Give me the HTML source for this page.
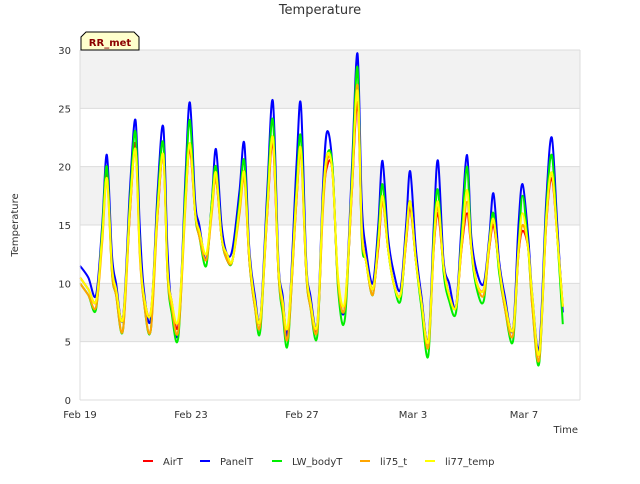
<!DOCTYPE html>
<html><head><meta charset="utf-8"><style>
body{margin:0;background:#fff;font-family:"DejaVu Sans",sans-serif}
</style></head><body>
<svg width="640" height="480" xmlns="http://www.w3.org/2000/svg" font-family="DejaVu Sans, sans-serif">
<g id="bands"></g>
<g id="grid"></g>
<g id="series"></g>
<g id="axes"></g>
<text x="320" y="14" text-anchor="middle" font-size="13" fill="#333">Temperature</text>
<text transform="translate(18,225) rotate(-90)" text-anchor="middle" font-size="10" fill="#333">Temperature</text>
<text x="578" y="433" text-anchor="end" font-size="10" fill="#333">Time</text>
<g>
<path d="M81,50 L81,37 L86,32 L134,32 L139,37 L139,50 Z" fill="#ffffcc" stroke="#000" stroke-width="1"/>
<text x="110" y="46" text-anchor="middle" font-size="10" font-weight="bold" fill="#8b0000">RR_met</text>
</g>
<g id="legend"></g>
</svg>
<script>
const times=[0,0.3,0.58,0.8,0.97,1.15,1.3,1.55,1.8,2.0,2.15,2.3,2.55,2.8,3.0,3.15,3.3,3.55,3.8,3.96,4.15,4.3,4.55,4.75,4.9,5.1,5.3,5.5,5.75,5.92,6.1,6.3,6.5,6.75,6.95,7.15,7.3,7.5,7.8,7.96,8.15,8.3,8.55,8.75,8.9,9.1,9.3,9.55,9.8,10.0,10.15,10.3,10.55,10.75,10.9,11.1,11.3,11.55,11.75,11.9,12.1,12.3,12.55,12.75,12.9,13.1,13.3,13.55,13.75,13.95,14.1,14.3,14.55,14.75,14.9,15.1,15.3,15.6,15.8,15.95,16.15,16.3,16.55,16.8,17.0,17.2,17.4];
const airT=[10.5,9.5,8.5,14,19.5,11.5,9.5,7,16,22,13,9,7.5,16,21,11.5,8.5,6.5,17,21.5,16,14.5,12,16.5,19,14,12,12,16.5,19.5,12,8.5,7,16,22,11,8.5,6,17,21.5,11,8.5,6,16.5,20,19.5,10,8,18,25.5,15,12,9.5,13,17,13,10,9,13.5,16.5,12,8.5,5,13,16,11.5,9,8,13,16,13,10,9.5,13,15,11.5,8.5,6,12.5,14.5,13,8.5,4,15,19,14,8];
const panelT=[11.5,10.5,9,15,21,12.5,10,7,18,24,15,9.5,7,18,23.4,13,8,6,19,25.5,17,15,12,17,21.5,15,12.5,13,18,22,13,9,7,18,25.6,12,9,6,20,25.3,12,9,6.5,18,23,20,10,8,20,29.7,17,13,10,15,20.5,14,11,9.5,15,19.6,13,9,5,15,20.5,12,10,8,15,21,14,11,10,14,17.7,12,9,6,15,18.5,14,9,4.5,17,22.5,15,7.5];
const lwBodyT=[10,9,7.8,14.5,20,11,9,6,17,23,13,8.5,6,17,22,11,7.5,5.5,18,24,16,14,11.5,17,20,14,12,12,17,20.5,12,8,6,17,24,11,7.5,5,18,22.5,11,8,5.5,17,21,20,9.5,7,19,28.5,14,12,9,14,18.5,13,10,8.5,14,17,12,8,3.8,14,18,11,8.5,7.5,14,20,13,9.5,8.5,13.5,16,11,8,5,13,17.5,13,8,3.2,16,21,14,6.5];
const li75=[10,9,8,13.5,19,11,9,6,16,21.5,12.5,8.5,6,16,21,11,8,6,16.5,22,16,14,12,16,19,14,12,12,16,19,12,8,6.5,16,22.5,11,8,5.5,17,21,11,8,6,16,20.5,19.5,10,8,18,27,14.5,12,9,13.5,17,13,10,9,13.5,17,12,8.5,4.5,13,16.5,11.5,9,8,13,17,13,10,9,13,15.5,11.5,8,5.5,12.5,15,13,8,3.5,15,19.5,14,8];
const li77=[10.5,9.5,8.5,14,19,11.5,9.5,7,16.5,21.5,13,9,7.5,16.5,21,11.5,8.5,7,17,22,16,14.5,12.5,16.5,19.5,14,12.5,12,16.5,19.5,12.5,8.5,7,16.5,22.5,11.5,8.5,6.5,17.5,21.5,11.5,8.5,6.5,17,21,19.5,10.5,8.5,18.5,26.5,15,12,9.5,13.5,17.5,13,10,9,14,17,12,8.5,5,13.5,17,11.5,9,8,13.5,18,13,10,9.5,13.5,15.5,11.5,8.5,6,13,16,13,9,4,15.5,19.5,14,8];
const seriesNames=["AirT","PanelT","LW_bodyT","li75_t","li77_temp"];
const seriesColors=["#ff0000","#0000ff","#00ee00","#ffa500","#ffff00"];
const yTicks=[0,5,10,15,20,25,30];
const xTickDays=[0,4,8,12,16];
const xTickLabels=["Feb 19","Feb 23","Feb 27","Mar 3","Mar 7"];

const NS="http://www.w3.org/2000/svg";
const X0=80,X1=580,Y0=400,Y1=50;
const xs=d=>X0+d*27.75;
const ys=v=>Y0-(v/30)*(Y0-Y1);
function mk(tag,attrs,parent){const e=document.createElementNS(NS,tag);for(const k in attrs)e.setAttribute(k,attrs[k]);parent.appendChild(e);return e;}
const bands=document.getElementById('bands'),grid=document.getElementById('grid'),axes=document.getElementById('axes'),ser=document.getElementById('series'),leg=document.getElementById('legend');
mk('rect',{x:X0,y:Y1,width:X1-X0,height:Y0-Y1,fill:'#fff'},bands);
for(let i=0;i<yTicks.length-1;i++){
 if(i%2===1){const r=mk('rect',{x:X0,y:ys(yTicks[i+1]),width:X1-X0,height:ys(yTicks[i])-ys(yTicks[i+1]),fill:'#f2f2f2'},bands);
 
 }
}
yTicks.forEach(v=>{
 const l=mk('line',{x1:X0,x2:X1,y1:ys(v),y2:ys(v),stroke:'#dcdcdc','stroke-width':1},grid);
 
 
 const t=mk('text',{x:X0-9,y:ys(v)+4,'text-anchor':'end','font-size':10,fill:'#333'},axes);
 t.textContent=v;
 
 
});
mk('line',{x1:X1,x2:X1,y1:Y1,y2:Y0,stroke:'#dcdcdc'},grid);
mk('line',{x1:X0,x2:X0,y1:Y1,y2:Y0,stroke:'#dcdcdc'},axes);
mk('line',{x1:X0,x2:X1,y1:Y0,y2:Y0,stroke:'#dcdcdc'},axes);
xTickDays.forEach((d,i)=>{
 const t=mk('text',{x:xs(d),y:Y0+18,'text-anchor':'middle','font-size':10,fill:'#333'},axes);
 t.textContent=xTickLabels[i];
 
 
});
function smoothPath(P){
 let d='M'+P[0][0].toFixed(1)+','+P[0][1].toFixed(1);
 for(let i=0;i<P.length-1;i++){
  const p0=P[Math.max(0,i-1)],p1=P[i],p2=P[i+1],p3=P[Math.min(P.length-1,i+2)];
  const c1=[p1[0]+(p2[0]-p0[0])/6,p1[1]+(p2[1]-p0[1])/6];
  const c2=[p2[0]-(p3[0]-p1[0])/6,p2[1]-(p3[1]-p1[1])/6];
  d+=' C'+c1[0].toFixed(1)+','+c1[1].toFixed(1)+' '+c2[0].toFixed(1)+','+c2[1].toFixed(1)+' '+p2[0].toFixed(1)+','+p2[1].toFixed(1);
 }
 return d;
}
[airT,panelT,lwBodyT,li75,li77].forEach((arr,si)=>{
 const P=arr.map((v,i)=>[xs(times[i]),ys(v)]);
 const p=mk('path',{d:smoothPath(P),fill:'none',stroke:seriesColors[si],'stroke-width':2,'stroke-linejoin':'round'},ser);
 
 
});
const legX=[143,200,272,360,425];
seriesNames.forEach((n,i)=>{
 const g=mk('g',{},leg);
 
 
 mk('line',{x1:legX[i],x2:legX[i]+10,y1:461,y2:461,stroke:seriesColors[i],'stroke-width':2},g);
 const t=mk('text',{x:legX[i]+20,y:465,'font-size':10,fill:'#333'},g);
 t.textContent=n;
});
</script>
</body></html>
